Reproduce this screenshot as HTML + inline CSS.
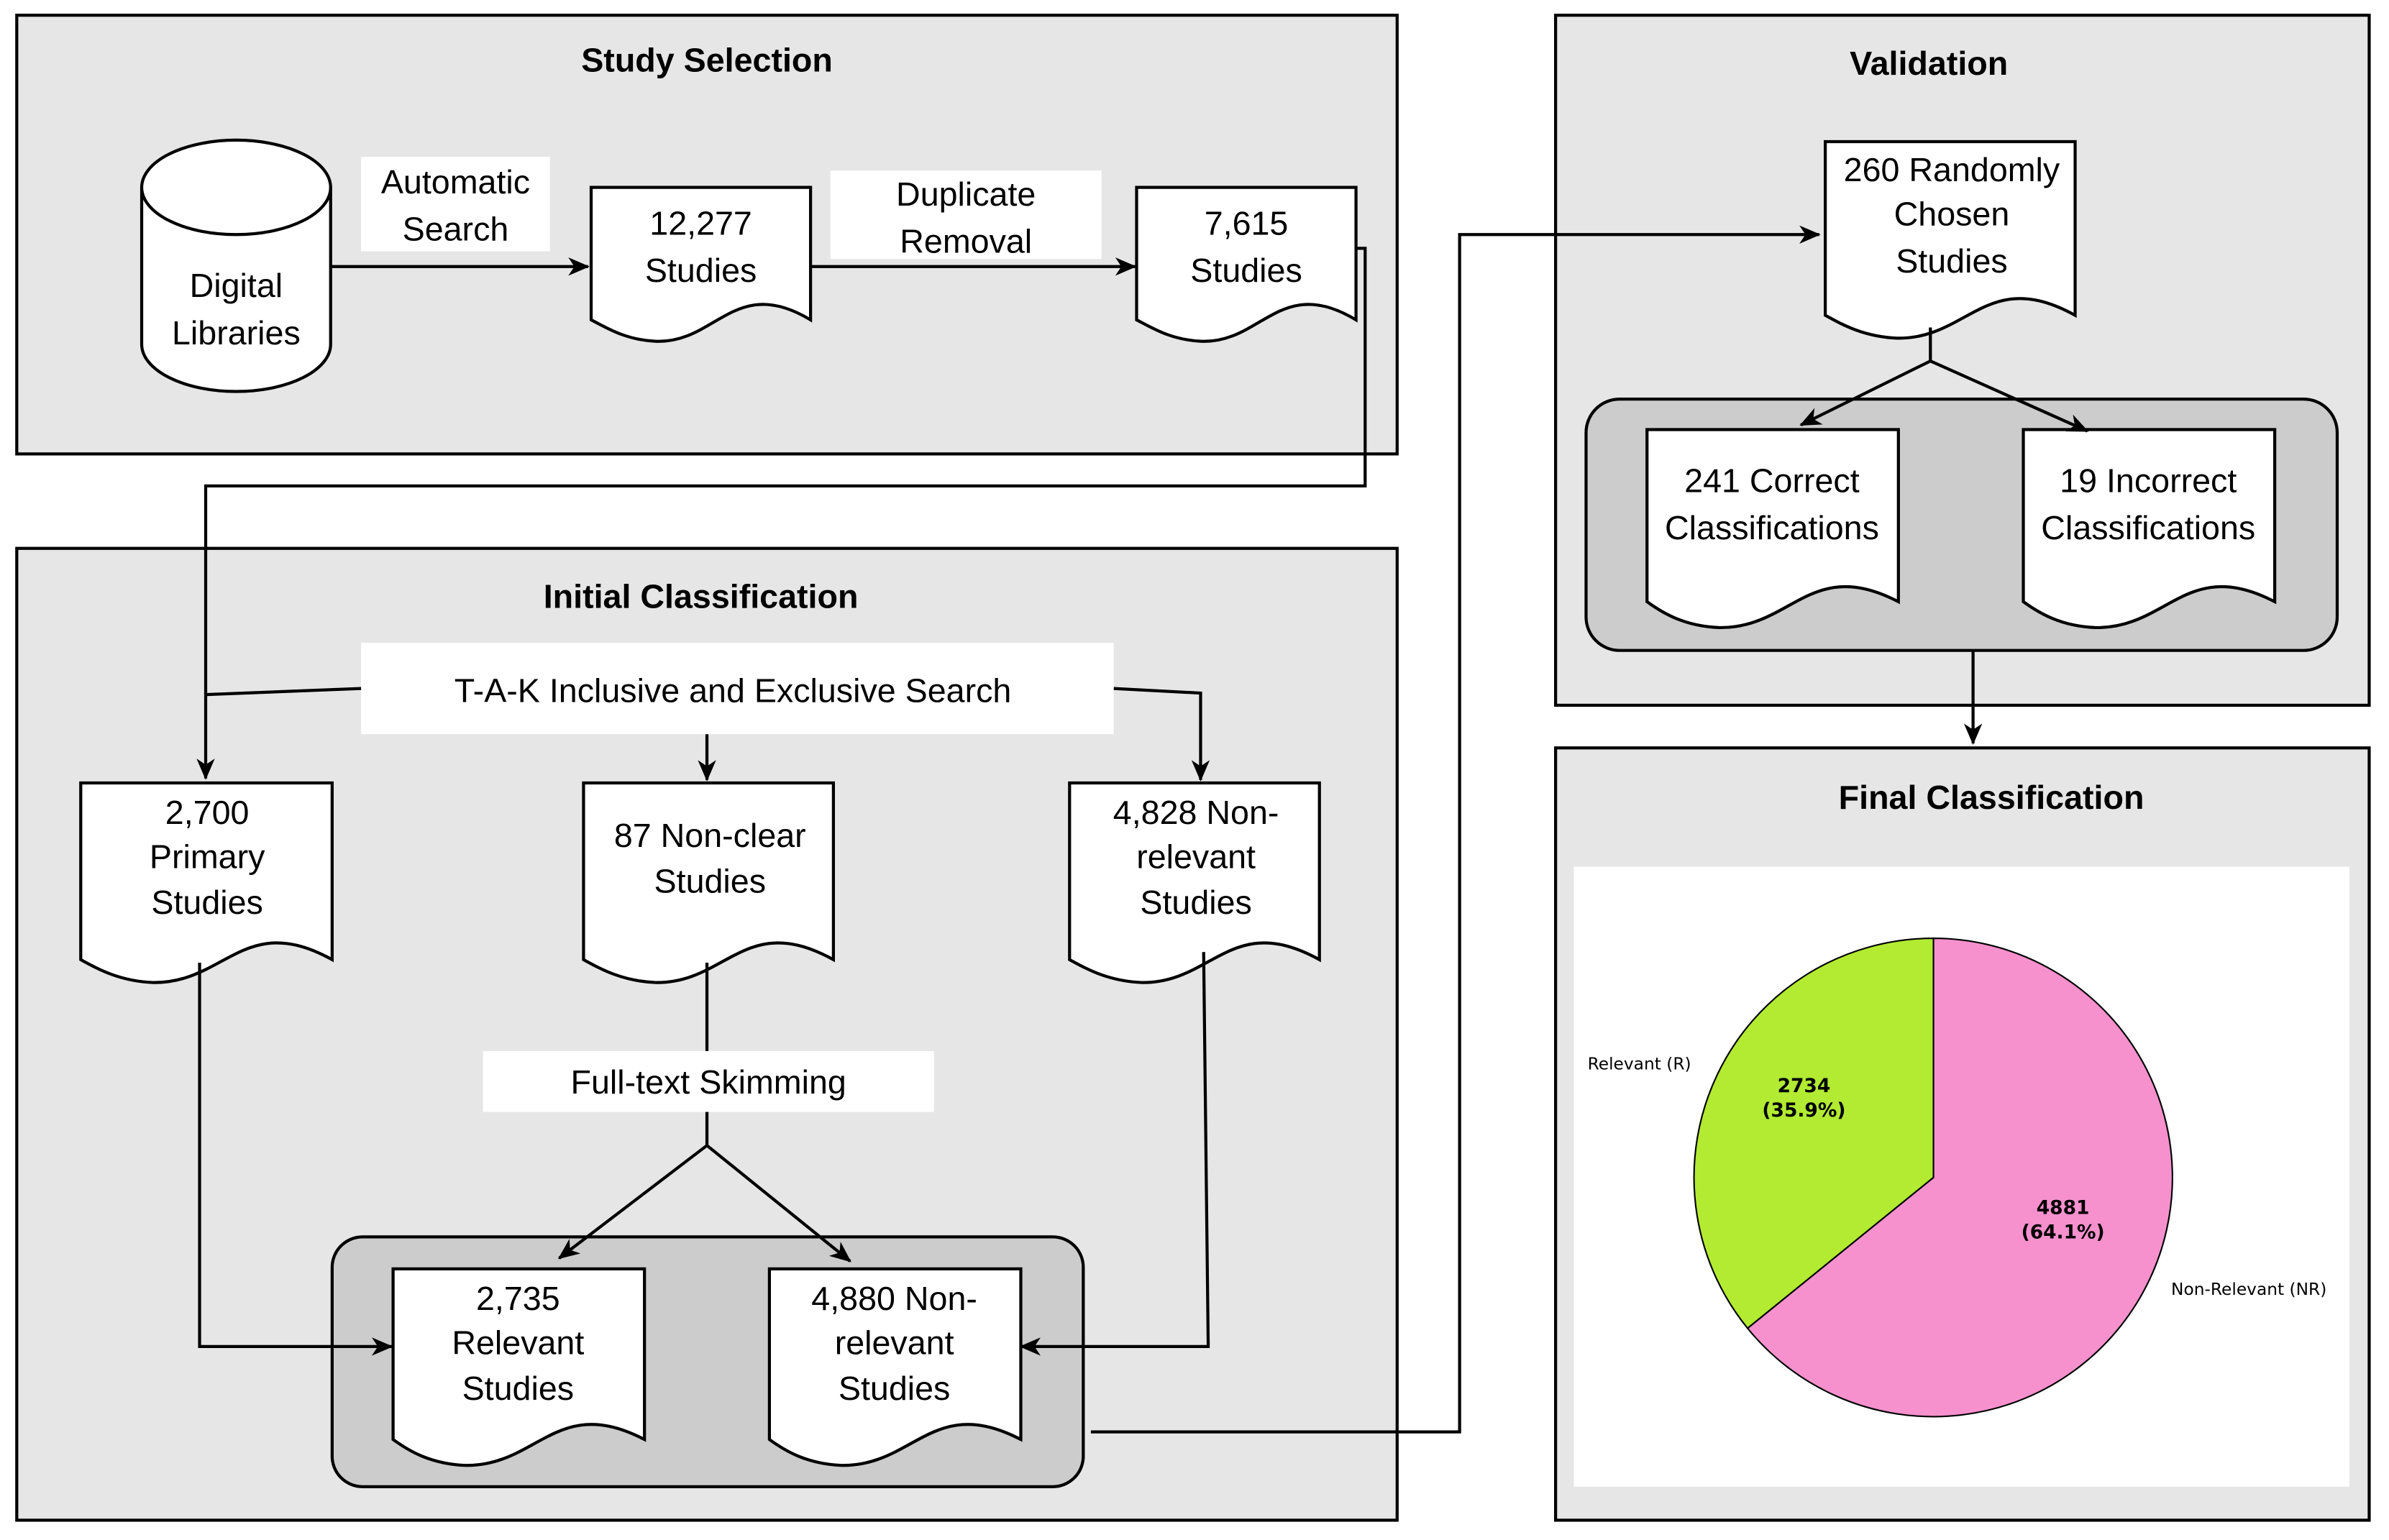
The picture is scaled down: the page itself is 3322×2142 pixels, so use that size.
<!DOCTYPE html>
<html><head><meta charset="utf-8"><style>
html,body{margin:0;padding:0;background:#fff}
svg{display:block}
text{font-family:"Liberation Sans",Arial,sans-serif;fill:#000}
.t{font-size:22px;text-anchor:middle}
.h{font-size:22px;font-weight:bold;text-anchor:middle}
.p{font-family:"DejaVu Sans",sans-serif;font-size:11px}
.pb{font-family:"DejaVu Sans",sans-serif;font-size:12.5px;font-weight:bold;text-anchor:middle}
.ln{fill:none;stroke:#000;stroke-width:2}
.doc{fill:#fff;stroke:#000;stroke-width:2}
</style></head><body>
<svg width="3322" height="2142" viewBox="0 0 1568 1011" preserveAspectRatio="none" xmlns="http://www.w3.org/2000/svg">
<defs>
<marker id="a" markerWidth="14" markerHeight="12" refX="13" refY="6" orient="auto" markerUnits="userSpaceOnUse">
<path d="M0,0 L14,6 L0,12 L4,6 Z" fill="#000"/>
</marker>
</defs>
<rect width="1568" height="1011" fill="#fff"/>

<!-- Study Selection -->
<rect x="11" y="10" width="906" height="288" fill="#e6e6e6" stroke="#000" stroke-width="2"/>
<text class="h" x="464" y="47">Study Selection</text>
<path d="M93,123 V226 A62,31 0 0 0 217,226 V123" fill="#fff" stroke="#000" stroke-width="2"/>
<ellipse cx="155" cy="123" rx="62" ry="31" fill="#fff" stroke="#000" stroke-width="2"/>
<text class="t" x="155" y="195">Digital</text>
<text class="t" x="155" y="226">Libraries</text>
<rect x="237" y="103" width="124" height="62" fill="#fff"/>
<text class="t" x="299" y="127">Automatic</text>
<text class="t" x="299" y="158">Search</text>
<path class="doc" d="M388,123 H532 V210 C482,180 470,226 430,224 C410,223 398,215 388,210 Z"/>
<text class="t" x="460" y="154">12,277</text>
<text class="t" x="460" y="185">Studies</text>
<rect x="545" y="112" width="178" height="58" fill="#fff"/>
<text class="t" x="634" y="135">Duplicate</text>
<text class="t" x="634" y="166">Removal</text>
<path class="doc" d="M746,123 H890 V210 C840,180 828,226 788,224 C768,223 756,215 746,210 Z"/>
<text class="t" x="818" y="154">7,615</text>
<text class="t" x="818" y="185">Studies</text>

<!-- Initial Classification -->
<rect x="11" y="360" width="906" height="638" fill="#e6e6e6" stroke="#000" stroke-width="2"/>
<text class="h" x="460" y="399">Initial Classification</text>
<rect x="237" y="422" width="494" height="60" fill="#fff"/>
<text class="t" x="481" y="461">T-A-K Inclusive and Exclusive Search</text>

<path class="doc" d="M53,514 H218 V630 C160,598 148,646 100,645 C78,644 64,636 53,630 Z"/>
<text class="t" x="136" y="541">2,700</text>
<text class="t" x="136" y="570">Primary</text>
<text class="t" x="136" y="600">Studies</text>
<path class="doc" d="M383,514 H547 V630 C489,598 477,646 430,645 C408,644 394,636 383,630 Z"/>
<text class="t" x="466" y="556">87 Non-clear</text>
<text class="t" x="466" y="586">Studies</text>
<path class="doc" d="M702,514 H866 V630 C808,598 796,646 749,645 C727,644 713,636 702,630 Z"/>
<text class="t" x="785" y="541">4,828 Non-</text>
<text class="t" x="785" y="570">relevant</text>
<text class="t" x="785" y="600">Studies</text>

<rect x="317" y="690" width="296" height="40" fill="#fff"/>
<text class="t" x="465" y="718">Full-text Skimming</text>

<rect x="218" y="812" width="493" height="164" rx="20" fill="#cccccc" stroke="#000" stroke-width="2"/>
<path class="doc" d="M258,833 H423 V945 C365,915 353,963 305,962 C283,961 269,953 258,945 Z"/>
<text class="t" x="340" y="860">2,735</text>
<text class="t" x="340" y="889">Relevant</text>
<text class="t" x="340" y="919">Studies</text>
<path class="doc" d="M505,833 H670 V945 C612,915 600,963 552,962 C530,961 516,953 505,945 Z"/>
<text class="t" x="587" y="860">4,880 Non-</text>
<text class="t" x="587" y="889">relevant</text>
<text class="t" x="587" y="919">Studies</text>

<!-- Validation -->
<rect x="1021" y="10" width="534" height="453" fill="#e6e6e6" stroke="#000" stroke-width="2"/>
<text class="h" x="1266" y="49">Validation</text>
<path class="doc" d="M1198,93 H1362 V207 C1304,175 1292,223 1245,222 C1223,221 1209,213 1198,207 Z"/>
<text class="t" x="1281" y="119">260 Randomly</text>
<text class="t" x="1281" y="148">Chosen</text>
<text class="t" x="1281" y="179">Studies</text>
<rect x="1041" y="262" width="493" height="165" rx="22" fill="#cccccc" stroke="#000" stroke-width="2"/>
<path class="doc" d="M1081,282 H1246 V395 C1188,365 1176,413 1128,412 C1106,411 1092,403 1081,395 Z"/>
<text class="t" x="1163" y="323">241 Correct</text>
<text class="t" x="1163" y="354">Classifications</text>
<path class="doc" d="M1328,282 H1493 V395 C1435,365 1423,413 1375,412 C1353,411 1339,403 1328,395 Z"/>
<text class="t" x="1410" y="323">19 Incorrect</text>
<text class="t" x="1410" y="354">Classifications</text>

<!-- Final Classification -->
<rect x="1021" y="491" width="534" height="507" fill="#e6e6e6" stroke="#000" stroke-width="2"/>
<text class="h" x="1307" y="531">Final Classification</text>
<rect x="1033" y="569" width="509" height="407" fill="#fff"/>
<path d="M1269,773 L1269,616 A157,157 0 1 1 1147,872 Z" fill="#f691ce" stroke="#000" stroke-width="1"/>
<path d="M1269,773 L1147,872 A157,157 0 0 1 1269,616 Z" fill="#b2eb32" stroke="#000" stroke-width="1"/>
<text class="pb" x="1184" y="717">2734</text>
<text class="pb" x="1184" y="733">(35.9%)</text>
<text class="pb" x="1354" y="797">4881</text>
<text class="pb" x="1354" y="813">(64.1%)</text>
<text class="p" x="1042" y="702">Relevant (R)</text>
<text class="p" x="1425" y="850">Non-Relevant (NR)</text>

<!-- Connectors (on top) -->
<path class="ln" d="M217,175 H386" marker-end="url(#a)"/>
<path class="ln" d="M532,175 H745" marker-end="url(#a)"/>
<path class="ln" d="M890,163 H896 V319 H135 V511" marker-end="url(#a)"/>
<path class="ln" d="M237,452 L135,456"/>
<path class="ln" d="M464,482 V512" marker-end="url(#a)"/>
<path class="ln" d="M731,452 L788,455 V512" marker-end="url(#a)"/>
<path class="ln" d="M464,632 V690"/>
<path class="ln" d="M464,730 V752 L367,826" marker-end="url(#a)"/>
<path class="ln" d="M464,752 L558,828" marker-end="url(#a)"/>
<path class="ln" d="M131,632 V884 H257" marker-end="url(#a)"/>
<path class="ln" d="M790,625 L793,884 H670" marker-end="url(#a)"/>
<path class="ln" d="M716,940 H958 V154 H1194" marker-end="url(#a)"/>
<path class="ln" d="M1267,215 V237 L1182,279" marker-end="url(#a)"/>
<path class="ln" d="M1267,237 L1370,283" marker-end="url(#a)"/>
<path class="ln" d="M1295,427 V488" marker-end="url(#a)"/>
</svg>
</body></html>
